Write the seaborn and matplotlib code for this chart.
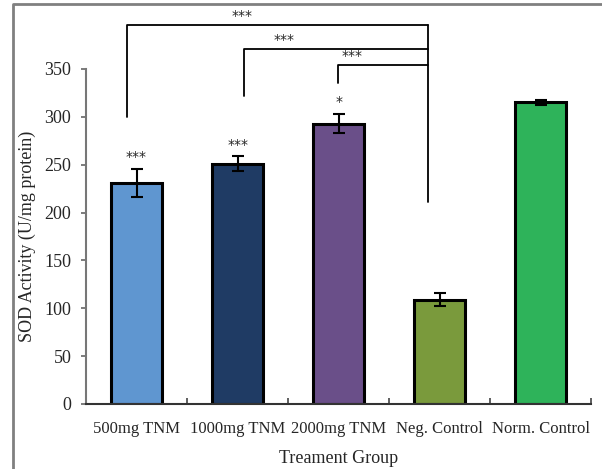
import matplotlib
matplotlib.use("Agg")
import matplotlib.pyplot as plt
import seaborn as sns
import pandas as pd
from matplotlib.lines import Line2D

sns.set_style("white")
plt.rcParams['font.family'] = ['Liberation Serif', 'DejaVu Serif']

groups = ["500mg TNM", "1000mg TNM", "2000mg TNM", "Neg. Control", "Norm. Control"]
sod = [231, 251, 293, 109, 315]
sod_err = [15, 8, 10, 7, 3]
colors = ["#5F96D0", "#1F3B64", "#6A4F89", "#7A9A3C", "#2EB35A"]
bar_stars = ["***", "***", "*", "", ""]

# significance brackets vs Neg. Control: (left x, bracket y, leg bottom, label x, label y)
brackets = [(-0.09, 396, 300, 1.04, 405),
            (1.06, 371, 322, 1.46, 380),
            (1.99, 354, 335, 2.13, 364)]
neg_x, neg_bottom = 2.89, 211

df = pd.DataFrame({"group": groups, "sod": sod})

fig = plt.figure(figsize=(6.02, 4.69), dpi=100)
ax = fig.add_axes([0.1429, 0.1386, 0.839, 0.7143])

sns.barplot(data=df, x="group", y="sod", hue="group", palette=colors, legend=False,
            width=0.5, edgecolor="black", linewidth=2.2, saturation=1, ax=ax)
ax.errorbar(range(len(groups)), sod, yerr=sod_err, fmt="none", ecolor="black",
            elinewidth=1.5, capsize=4, capthick=1.5)

ax.set_ylim(0, 350)
ax.set_xlim(-0.5, 4.5)
ax.set_yticks(range(0, 351, 50))
ax.tick_params(axis="y", direction="out", length=3.6, width=1.2, color="#666666",
               pad=7, labelsize=13, left=True)
ax.tick_params(axis="x", which="major", length=0, pad=12, labelsize=12)
ax.set_xticks([0.5, 1.5, 2.5, 3.5, 4.5], minor=True)
ax.tick_params(axis="x", which="minor", direction="in", length=4, width=1.2,
               color="#444444", bottom=True)

for s in ["top", "right"]:
    ax.spines[s].set_visible(False)
ax.spines["left"].set_color("#777777")
ax.spines["left"].set_linewidth(1.5)
ax.spines["bottom"].set_color("#333333")
ax.spines["bottom"].set_linewidth(1.5)

ax.set_xlabel("Treament Group", fontsize=13)
ax.set_ylabel("SOD Activity (U/mg protein)", fontsize=13)
ax.yaxis.set_label_coords(-0.099, 0.5)
ax.xaxis.set_label_coords(0.5, -0.138)

for i, s in enumerate(bar_stars):
    if s:
        ax.text(i, sod[i] + sod_err[i] + 12, s, ha="center", va="center",
                fontsize=10, family="DejaVu Sans")

for lx, by, bot, tx, ty in brackets:
    ax.plot([lx, lx, neg_x], [bot, by, by], color="black", lw=1.3, clip_on=False)
    ax.text(tx, ty, "***", ha="center", va="center", fontsize=10,
            family="DejaVu Sans", clip_on=False)
ax.plot([neg_x, neg_x], [neg_bottom, brackets[0][1]], color="black", lw=1.3, clip_on=False)

# grey frame (left and top edges) round the figure
fx, fy = 13 / 602, 1 - 4 / 469
fig.add_artist(Line2D([fx, fx, 1.0], [0.0, fy, fy], transform=fig.transFigure,
                      color="#808080", linewidth=2))

fig.savefig("out.png", dpi=100)
